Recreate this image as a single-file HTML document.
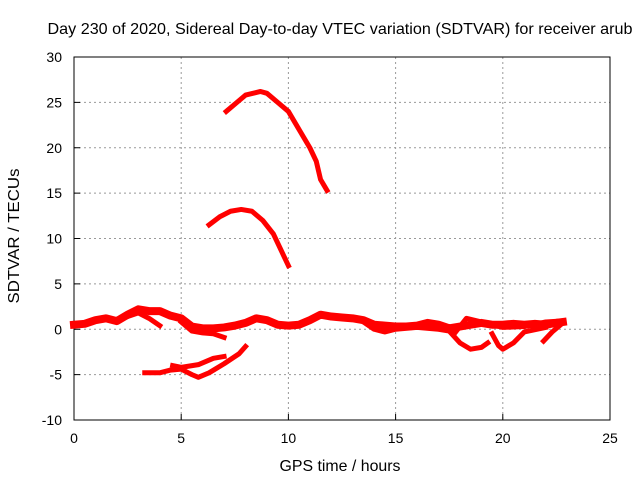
<!DOCTYPE html>
<html><head><meta charset="utf-8"><style>
body{margin:0;background:#fff}
svg{display:block;font-family:"Liberation Sans",sans-serif}
</style></head><body>
<svg id="chart" width="640" height="480" viewBox="0 0 640 480">
<rect width="640" height="480" fill="#fff"/>
<text x="340" y="34" text-anchor="middle" font-size="16" textLength="585" lengthAdjust="spacingAndGlyphs">Day 230 of 2020, Sidereal Day-to-day VTEC variation (SDTVAR) for receiver arub</text>
<g id="grid"></g>
<g id="ticks" font-size="14"></g>
<rect x="74" y="57" width="536" height="363" fill="none" stroke="#000" stroke-width="1"/>
<g id="series"></g>
<text x="340" y="471" text-anchor="middle" font-size="16" textLength="121" lengthAdjust="spacingAndGlyphs">GPS time / hours</text>
<text transform="translate(19,236) rotate(-90)" text-anchor="middle" font-size="16" textLength="135" lengthAdjust="spacingAndGlyphs">SDTVAR / TECUs</text>
</svg>
<script>
const xTicks=[0,5,10,15,20,25];
const yTicks=[-10,-5,0,5,10,15,20,25,30];
const seriesTop=[[7.1,24],[7.6,25],[8,25.8],[8.7,26.2],[9,26],[9.5,25],[10,24],[10.5,22],[11,20],[11.3,18.5],[11.5,16.5],[11.8,15.3]];
const seriesMid=[[6.3,11.5],[6.8,12.4],[7.3,13],[7.8,13.2],[8.3,13],[8.8,12],[9.3,10.5],[9.7,8.5],[10,7]];
const seriesLow1=[[3.3,-4.8],[4,-4.8],[4.5,-4.5],[5,-4.4],[5.5,-5],[5.8,-5.3],[6.3,-4.8],[7,-3.8],[7.7,-2.7],[8,-1.9]];
const seriesLow2=[[4.6,-4],[5,-4.2],[5.8,-3.9],[6.5,-3.2],[7,-3]];
const seriesMain=[[0,0.5],[0.5,0.6],[1,1],[1.5,1.2],[2,0.9],[2.5,1.6],[3,2.2],[3.5,2],[4,2],[4.5,1.5],[5,1.2],[5.5,0.3],[6,0.1],[6.5,0.1],[7,0.2],[7.5,0.4],[8,0.7],[8.5,1.2],[9,1],[9.5,0.5],[10,0.4],[10.5,0.5],[11,1],[11.5,1.6],[12,1.4],[12.5,1.3],[13,1.2],[13.5,1],[14,0.5],[14.5,0.4],[15,0.3],[15.5,0.3],[16,0.4],[16.5,0.7],[17,0.5],[17.5,0.1],[18,0.3],[18.5,0.5],[19,0.7],[19.5,0.5],[20,0.5],[20.5,0.6],[21,0.5],[21.5,0.6],[22,0.5],[22.5,0.7],[22.8,0.8]];
const seriesB1=[[2,1],[3,1.8],[3.5,1.2],[4,0.4]];
const seriesB2=[[5,0.8],[5.5,-0.2],[6,-0.4],[6.5,-0.5],[7,-0.9]];
const seriesB3=[[13.5,0.8],[14,0],[14.5,-0.3],[15,0],[16,0.2],[17,0],[17.5,-0.2],[18,-1.5],[18.5,-2.2],[19,-2],[19.3,-1.5]];
const seriesB4=[[19.5,-0.5],[19.8,-1.8],[20,-2.2],[20.5,-1.5],[21,-0.3],[22,0.2]];
const seriesB5=[[17.8,-0.3],[18.3,1.2],[19,0.8],[20,0.2],[21,0.3],[22,0.8],[22.7,0.9]];
const seriesB6=[[21.9,-1.3],[22.3,-0.3],[22.7,0.5]];
const allSeries=[["top",seriesTop],["mid",seriesMid],["low-1",seriesLow1],["low-2",seriesLow2],["main",seriesMain],["b1",seriesB1],["b2",seriesB2],["b3",seriesB3],["b4",seriesB4],["b5",seriesB5],["b6",seriesB6]];
const X=t=>74+t*(536/25);
const Y=v=>57+(30-v)*(363/40);
const NS="http://www.w3.org/2000/svg";
function mk(tag,attrs,parent){const e=document.createElementNS(NS,tag);for(const k in attrs)e.setAttribute(k,attrs[k]);parent.appendChild(e);return e;}
const grid=document.getElementById('grid'),ticks=document.getElementById('ticks'),ser=document.getElementById('series');
xTicks.forEach(t=>{
 if(t>0&&t<25){const l=mk('line',{x1:X(t),x2:X(t),y1:57,y2:420,stroke:'#999','stroke-dasharray':'2,3'},grid);
 
 }
 const m=mk('line',{x1:X(t),x2:X(t),y1:420,y2:414,stroke:'#000'},ticks);
 
 
 const tx=mk('text',{x:X(t),y:443,'text-anchor':'middle'},ticks);tx.textContent=t;
 
 
});
yTicks.forEach(v=>{
 if(v>-10&&v<30){const l=mk('line',{x1:74,x2:610,y1:Y(v),y2:Y(v),stroke:'#999','stroke-dasharray':'2,3'},grid);
 
 }
 const m=mk('line',{x1:74,x2:80,y1:Y(v),y2:Y(v),stroke:'#000'},ticks);
 
 
 const tx=mk('text',{x:62,y:Y(v)+5,'text-anchor':'end'},ticks);tx.textContent=v;
 
 
});
allSeries.forEach(([n,d])=>{
 const w=(n==='main')?8:5;
 const p=mk('polyline',{points:d.map(q=>X(q[0])+','+Y(q[1])).join(' '),fill:'none',stroke:'#f00','stroke-width':w,'stroke-linejoin':'round','stroke-linecap':'square'},ser);
 
 
});
</script>
</body></html>
